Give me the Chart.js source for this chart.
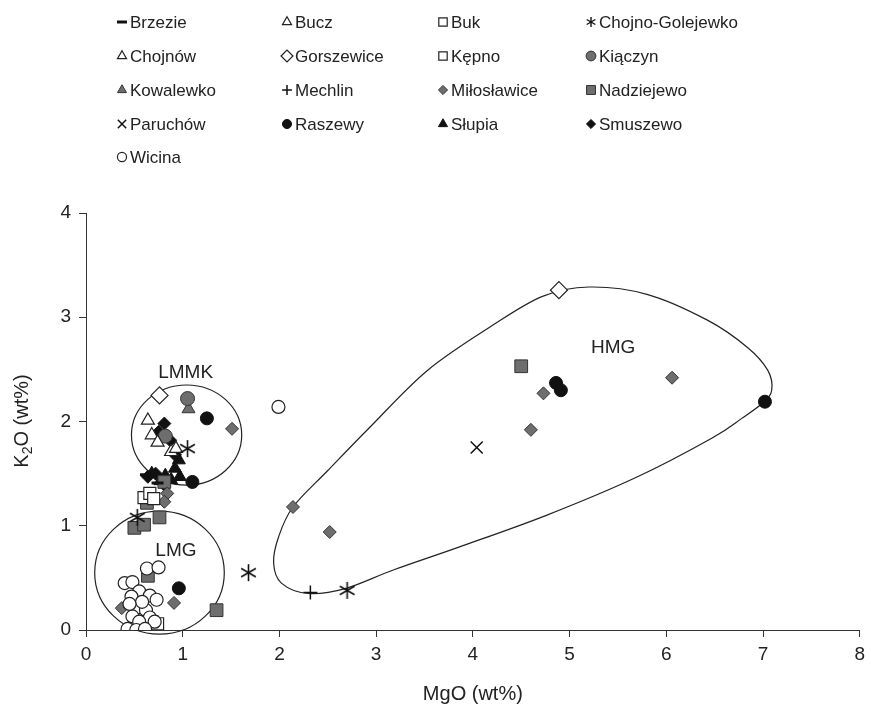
<!DOCTYPE html>
<html>
<head>
<meta charset="utf-8">
<script src="https://cdn.jsdelivr.net/npm/chart.js@4.4.1/dist/chart.umd.min.js"></script>
<style>
  html, body { margin: 0; background: #fff; }
  #wrap { width: 871px; height: 711px; }
</style>
</head>
<body>
<div id="wrap"><canvas id="chart"></canvas></div>
<script>
// Data: [MgO, K2O] in wt%
const siteNames = [
  "Brzezie", "Bucz", "Buk", "Chojno-Golejewko",
  "Chojnów", "Gorszewice", "Kępno", "Kiączyn",
  "Kowalewko", "Mechlin", "Miłosławice", "Nadziejewo",
  "Paruchów", "Raszewy", "Słupia", "Smuszewo",
  "Wicina"
];

const brzezie = [[0.62, 1.49], [0.74, 1.41]];
const bucz = [[0.64, 2.01], [0.68, 1.87], [0.74, 1.80]];
const buk = [[0.66, 1.31], [0.70, 1.26], [0.68, 0.08]];
const chojnoGolejewko = [[1.05, 1.74], [0.53, 1.08], [1.68, 0.55], [2.70, 0.38]];
const chojnow = [[0.88, 1.71], [0.93, 1.74]];
const gorszewice = [[4.89, 3.26], [0.76, 2.25]];
const kepno = [[0.60, 1.27], [0.74, 0.06]];
const kiaczyn = [[1.05, 2.22], [0.82, 1.86]];
const kowalewko = [[1.06, 2.12]];
const mechlin = [[2.32, 0.36]];
const miloslawice = [[4.73, 2.27], [4.60, 1.92], [6.06, 2.42], [2.14, 1.18], [2.52, 0.94],
  [1.51, 1.93], [0.84, 1.31], [0.81, 1.23], [0.91, 0.26], [0.37, 0.21]];
const nadziejewo = [[4.50, 2.53], [0.50, 0.98], [0.60, 1.01], [0.76, 1.08], [0.63, 1.22],
  [0.81, 1.42], [0.64, 0.52], [1.35, 0.19]];
const paruchow = [[4.04, 1.75]];
const raszewy = [[4.86, 2.37], [4.91, 2.30], [7.02, 2.19], [1.25, 2.03], [1.10, 1.42], [0.96, 0.40]];
const slupia = [[0.96, 1.63], [0.92, 1.55], [0.68, 1.50], [0.82, 1.48], [0.88, 1.44], [0.77, 1.43], [0.97, 1.47]];
const smuszewo = [[0.81, 1.98], [0.87, 1.82], [0.75, 1.90], [0.92, 1.68], [0.72, 1.50], [0.80, 1.40], [0.64, 1.47]];
const wicina = [[1.99, 2.14], [0.63, 0.59], [0.75, 0.60], [0.40, 0.45], [0.48, 0.46], [0.55, 0.37],
  [0.66, 0.33], [0.47, 0.32], [0.73, 0.29], [0.52, 0.21], [0.62, 0.19], [0.48, 0.13], [0.66, 0.12],
  [0.55, 0.08], [0.71, 0.08], [0.43, 0.01], [0.52, 0.0], [0.61, 0.01], [0.58, 0.27], [0.45, 0.25]];

const siteValues = [brzezie, bucz, buk, chojnoGolejewko, chojnow, gorszewice, kepno, kiaczyn,
  kowalewko, mechlin, miloslawice, nadziejewo, paruchow, raszewy, slupia, smuszewo, wicina];

const xTicks = [0, 1, 2, 3, 4, 5, 6, 7, 8];
const yTicks = [0, 1, 2, 3, 4];

// Group outlines (data units)
const lmmkCircle = { cx: 1.04, cy: 1.87, rx: 0.57, ry: 0.48 };
const lmgCircle = { cx: 0.76, cy: 0.55, rx: 0.67, ry: 0.59 };
const hmgOutline = [
  [5.20, 3.29], [5.80, 3.22], [6.43, 2.97], [6.84, 2.71], [7.05, 2.49], [7.09, 2.30],
  [7.00, 2.18], [6.78, 2.03], [6.47, 1.84], [5.68, 1.46], [4.76, 1.10], [3.87, 0.80],
  [3.19, 0.58], [2.69, 0.40], [2.30, 0.35], [2.02, 0.45], [1.94, 0.64], [1.99, 0.89],
  [2.14, 1.18], [2.50, 1.53], [2.94, 1.95], [3.53, 2.49], [4.20, 2.92], [4.72, 3.20]
];
const groupLabels = [["LMMK", 1.03, 2.47], ["LMG", 0.93, 0.76], ["HMG", 5.45, 2.71]];

// asterisk marker (6 arms)
function makeAsterisk(size, lw) {
  const c = document.createElement("canvas");
  c.width = size; c.height = size;
  const g = c.getContext("2d");
  const m = size / 2, r = size / 2 - 1;
  g.strokeStyle = "#111";
  g.lineWidth = lw;
  [90, 30, 150].forEach(a => {
    const t = a * Math.PI / 180;
    g.beginPath();
    g.moveTo(m - Math.cos(t) * r, m - Math.sin(t) * r);
    g.lineTo(m + Math.cos(t) * r, m + Math.sin(t) * r);
    g.stroke();
  });
  return c;
}

const grey = "#6e6e6e";
const markerStyles = [
  { ps: "line", bg: "#111", bc: "#111", r: 6, bw: 3 },
  { ps: "triangle", bg: "#fff", bc: "#222", r: 7.5, bw: 1.2 },
  { ps: "rect", bg: "#fff", bc: "#222", r: 8.5, bw: 1.2 },
  { ps: makeAsterisk(19, 1.6), legendPs: makeAsterisk(12, 1.4), bg: "#111", bc: "#111", r: 9, bw: 1.5 },
  { ps: "triangle", bg: "#fff", bc: "#222", r: 7.5, bw: 1.2 },
  { ps: "rectRot", bg: "#fff", bc: "#222", r: 8.5, bw: 1.2 },
  { ps: "rect", bg: "#fff", bc: "#222", r: 8.5, bw: 1.2 },
  { ps: "circle", bg: grey, bc: "#333", r: 7, bw: 1 },
  { ps: "triangle", bg: grey, bc: "#333", r: 7.5, bw: 1 },
  { ps: "cross", bg: "#111", bc: "#111", r: 7, bw: 1.5 },
  { ps: "rectRot", bg: grey, bc: "#333", r: 6.5, bw: 1 },
  { ps: "rect", bg: grey, bc: "#333", r: 9, bw: 1 },
  { ps: "crossRot", bg: "#111", bc: "#111", r: 8.5, bw: 1.5 },
  { ps: "circle", bg: "#111", bc: "#111", r: 6.5, bw: 1 },
  { ps: "triangle", bg: "#111", bc: "#111", r: 7.5, bw: 1 },
  { ps: "rectRot", bg: "#111", bc: "#111", r: 6.5, bw: 1 },
  { ps: "circle", bg: "#fff", bc: "#222", r: 6.5, bw: 1.2 }
];

const datasets = siteNames.map((name, i) => ({
  label: name,
  data: siteValues[i].map(p => ({ x: p[0], y: p[1] })),
  pointStyle: markerStyles[i].ps,
  pointRadius: markerStyles[i].r,
  pointBackgroundColor: markerStyles[i].bg,
  pointBorderColor: markerStyles[i].bc,
  pointBorderWidth: markerStyles[i].bw,
  order: i === 16 ? -1 : i
}));

Chart.defaults.font.family = "'Liberation Sans', Arial, sans-serif";
Chart.defaults.color = "#222";

// outlines + labels
const outlinePlugin = {
  id: "outlines",
  beforeDatasetsDraw(chart) {
    const { ctx, scales: { x, y } } = chart;
    ctx.save();
    ctx.strokeStyle = "#222";
    ctx.lineWidth = 1.2;
    [lmmkCircle, lmgCircle].forEach(c => {
      const px = x.getPixelForValue(c.cx), py = y.getPixelForValue(c.cy);
      const rx = x.getPixelForValue(c.cx + c.rx) - px;
      const ry = py - y.getPixelForValue(c.cy + c.ry);
      ctx.beginPath();
      ctx.ellipse(px, py, rx, ry, 0, 0, Math.PI * 2);
      ctx.stroke();
    });
    const pts = hmgOutline.map(p => [x.getPixelForValue(p[0]), y.getPixelForValue(p[1])]);
    const n = pts.length;
    ctx.beginPath();
    ctx.moveTo(pts[0][0], pts[0][1]);
    for (let i = 0; i < n; i++) {
      const p0 = pts[(i - 1 + n) % n], p1 = pts[i], p2 = pts[(i + 1) % n], p3 = pts[(i + 2) % n];
      ctx.bezierCurveTo(
        p1[0] + (p2[0] - p0[0]) / 6, p1[1] + (p2[1] - p0[1]) / 6,
        p2[0] - (p3[0] - p1[0]) / 6, p2[1] - (p3[1] - p1[1]) / 6,
        p2[0], p2[1]);
    }
    ctx.closePath();
    ctx.stroke();

    ctx.fillStyle = "#222";
    ctx.font = "19px 'Liberation Sans', Arial, sans-serif";
    ctx.textAlign = "center";
    ctx.textBaseline = "middle";
    groupLabels.forEach(l => ctx.fillText(l[0], x.getPixelForValue(l[1]), y.getPixelForValue(l[2])));
    ctx.restore();
  },
  afterDraw(chart) {
    const { ctx } = chart;
    ctx.save();
    // y axis title with subscript
    ctx.translate(22, 421);
    ctx.rotate(-Math.PI / 2);
    ctx.fillStyle = "#222";
    ctx.textBaseline = "middle";
    const big = "20px 'Liberation Sans', Arial, sans-serif";
    const small = "14px 'Liberation Sans', Arial, sans-serif";
    ctx.font = big;
    const wK = ctx.measureText("K").width;
    const wRest = ctx.measureText("O (wt%)").width;
    ctx.font = small;
    const w2 = ctx.measureText("2").width;
    let sx = -(wK + w2 + wRest) / 2;
    ctx.textAlign = "left";
    ctx.font = big;
    ctx.fillText("K", sx, 0);
    ctx.font = small;
    ctx.fillText("2", sx + wK, 6);
    ctx.font = big;
    ctx.fillText("O (wt%)", sx + wK + w2, 0);
    ctx.restore();

    // legend grid
    const colX = [122, 287, 443, 591];
    const rowY = [22, 56, 90, 124, 157];
    ctx.save();
    ctx.font = "17px 'Liberation Sans', Arial, sans-serif";
    ctx.textBaseline = "middle";
    ctx.textAlign = "left";
    siteNames.forEach((name, i) => {
      const cx = colX[i % 4], cy = rowY[Math.floor(i / 4)];
      const s = markerStyles[i];
      ctx.fillStyle = s.bg;
      ctx.strokeStyle = s.bc;
      ctx.lineWidth = s.bw;
      Chart.helpers.drawPoint(ctx, {
        pointStyle: s.legendPs || s.ps,
        radius: s.ps === "line" ? 5 : s.r * 0.7,
        rotation: 0,
        borderWidth: s.bw
      }, cx, cy);
      ctx.fillStyle = "#222";
      ctx.fillText(name, cx + 8, cy + 1);
    });
    ctx.restore();
  }
};

new Chart(document.getElementById("chart"), {
  type: "scatter",
  data: { datasets },
  options: {
    responsive: true,
    maintainAspectRatio: false,
    animation: false,
    events: [],
    layout: { padding: { top: 213, right: 5, left: 0, bottom: 0 } },
    plugins: { legend: { display: false }, tooltip: { enabled: false } },
    scales: {
      x: {
        type: "linear", min: 0, max: 8,
        afterBuildTicks: s => { s.ticks = xTicks.map(v => ({ value: v })); },
        afterFit: s => { s.height = 81; },
        ticks: { font: { size: 19 }, color: "#222", padding: 6 },
        grid: { drawOnChartArea: false, drawTicks: true, tickLength: 7, color: "#333" },
        border: { color: "#333", width: 1 },
        title: { display: true, text: "MgO (wt%)", font: { size: 20 }, color: "#222", padding: { top: 0, bottom: 5 } }
      },
      y: {
        type: "linear", min: 0, max: 4,
        afterBuildTicks: s => { s.ticks = yTicks.map(v => ({ value: v })); },
        afterFit: s => { s.width = 86; },
        ticks: { font: { size: 19 }, color: "#222", padding: 8 },
        grid: { drawOnChartArea: false, drawTicks: true, tickLength: 7, color: "#333" },
        border: { color: "#333", width: 1 }
      }
    }
  },
  plugins: [outlinePlugin]
});
</script>
</body>
</html>
